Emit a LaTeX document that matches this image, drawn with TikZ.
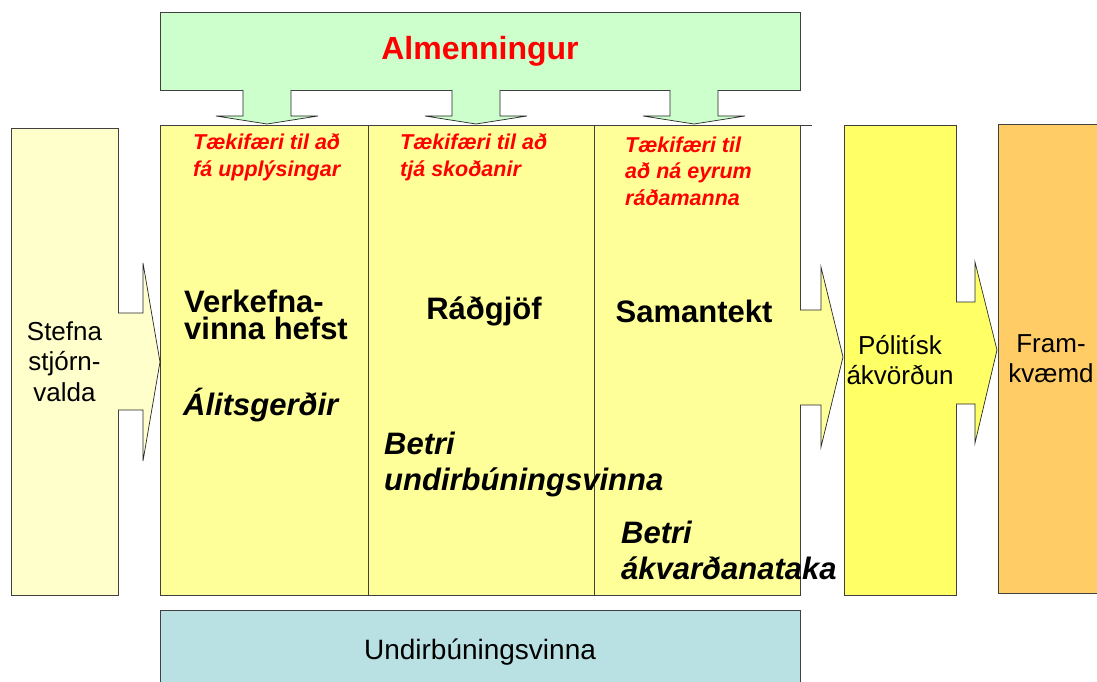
\documentclass[tikz,border=0pt]{standalone}
\usepackage{fontspec}
\setmainfont{Liberation Sans}
\usetikzlibrary{positioning}

\definecolor{lysgraenn}{HTML}{CCFFCC}
\definecolor{lysgulur}{HTML}{FFFF99}
\definecolor{folgulur}{HTML}{FFFFCC}
\definecolor{gulur}{HTML}{FFFF66}
\definecolor{appelsinu}{HTML}{FFCC66}
\definecolor{blagraenn}{HTML}{B9E0E3}
\definecolor{raudur}{HTML}{FF0000}

\begin{document}
\begin{tikzpicture}[x=1pt, y=-1pt,
box/.style={rectangle, draw=black!75, line width=0.8pt, inner sep=0pt, outer sep=0pt},
blokkor/.style={draw=black!85, line width=0.7pt},
rautt/.style={text=raudur, font=\fontsize{21.5}{26.5}\selectfont\bfseries\itshape, align=left, anchor=west, inner sep=0pt},
feitt/.style={font=\fontsize{31}{27.5}\selectfont\bfseries, align=left, inner sep=0pt},
venjulegt/.style={font=\fontsize{26}{30.5}\selectfont, align=center, inner sep=0pt},
]
\useasboundingbox (0,0) rectangle (1097,682);

%Nodes
\node[box, fill=lysgraenn, minimum width=640pt, minimum height=78pt,
      text=raudur, font=\fontsize{32}{38}\selectfont\bfseries] (almenn) at (480,51) {Almenningur};
\node[box, fill=lysgulur, minimum width=208pt, minimum height=470pt] (dalkur1) at (264,360) {};
\node[box, fill=lysgulur, minimum width=226pt, minimum height=470pt] (dalkur2) [right=0pt of dalkur1] {};
\node[box, fill=lysgulur, minimum width=206pt, minimum height=470pt] (dalkur3) [right=0pt of dalkur2] {};
\node[box, fill=folgulur, minimum width=107pt, minimum height=467pt, venjulegt] (stefna) at (64.5,361.5) {Stefna\\stjórn-\\valda};
\node[box, fill=gulur, minimum width=112pt, minimum height=470pt, venjulegt] (politisk) at (900,360) {Pólitísk\\ákvörðun};
\node[box, fill=appelsinu, minimum width=106pt, minimum height=469pt, venjulegt] (framkv) at (1051,358.5) {Fram-\\kvæmd};
\node[box, fill=blagraenn, minimum width=640pt, minimum height=84pt,
      font=\fontsize{28}{33}\selectfont] (undirb) at (480,652) {Undirbúningsvinna};

% texts in the columns
\node[rautt] (taeki1) at (193,157.5) {Tækifæri til að\\fá upplýsingar};
\node[rautt] (taeki2) at (400,157.5) {Tækifæri til að\\tjá skoðanir};
\node[rautt] (taeki3) at (625,171) {Tækifæri til\\að ná eyrum\\ráðamanna};
\node[feitt, anchor=west] (verkefna) at (184,315) {Verkefna-\\vinna hefst};
\node[feitt, anchor=west, font=\fontsize{31}{27}\selectfont\bfseries\itshape] (alit) at (183,405) {Álitsgerðir};
\node[feitt] (radgjof) at (484,311) {Ráðgjöf};
\node[feitt] (samantekt) at (694,311) {Samantekt};
\node[feitt, anchor=west, font=\fontsize{31}{36}\selectfont\bfseries\itshape] (betri1) at (384,464) {Betri\\undirbúningsvinna};
\node[feitt, anchor=west, font=\fontsize{31}{36}\selectfont\bfseries\itshape] (betri2) at (621,550) {Betri\\ákvarðanataka};

%Lines
\draw[black!75, line width=0.8pt] (dalkur1.north west) -- ++(652,0);
\foreach \x in {267,476,694}
  \draw[blokkor, fill=lysgraenn] ({\x-24},90) -- ({\x-24},116) -- ({\x-51},116) -- (\x,124)
    -- ({\x+51},116) -- ({\x+24},116) -- ({\x+24},90);
\draw[blokkor, fill=folgulur] (stefna.east |- 0,313) -- (143,313) -- (143,263) -- (160,362)
  -- (143,461) -- (143,410) -- (stefna.east |- 0,410);
\draw[blokkor, fill=lysgulur] (dalkur3.east |- 0,310) -- (821,310) -- (821,267) -- (843,357)
  -- (821,447) -- (821,405) -- (dalkur3.east |- 0,405);
\draw[blokkor, fill=gulur] (politisk.east |- 0,302) -- (975,302) -- (975,262) -- (997,350)
  -- (975,443) -- (975,404) -- (politisk.east |- 0,404);
\end{tikzpicture}
\end{document}
